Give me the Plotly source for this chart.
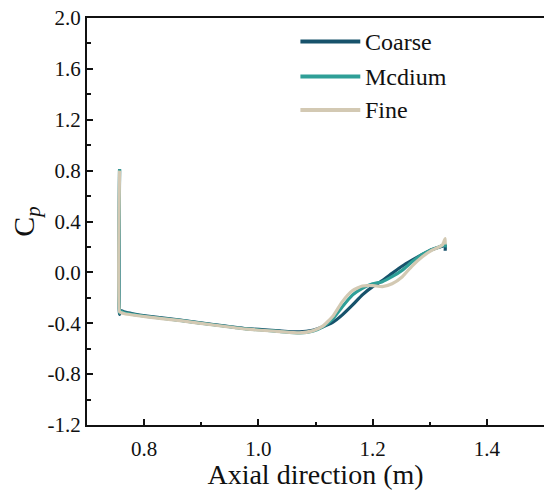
import plotly.graph_objects as go

# Pressure coefficient along the axial direction for three mesh resolutions
coarse_x = [0.757, 0.757, 0.759, 0.766, 0.78, 0.805, 0.863, 0.921, 0.979, 1.037, 1.072,
            1.095, 1.112, 1.13, 1.147, 1.165, 1.182, 1.2, 1.217, 1.234, 1.252, 1.269,
            1.287, 1.304, 1.322, 1.327, 1.327]
coarse_y = [0.81, -0.33, -0.30, -0.312, -0.325, -0.343, -0.375, -0.41, -0.442, -0.46, -0.468,
            -0.455, -0.43, -0.394, -0.334, -0.256, -0.177, -0.112, -0.065, -0.008, 0.05, 0.096,
            0.141, 0.18, 0.206, 0.215, 0.17]

medium_x = [0.757, 0.757, 0.759, 0.766, 0.78, 0.805, 0.863, 0.921, 0.979, 1.037, 1.072,
            1.095, 1.112, 1.13, 1.147, 1.165, 1.182, 1.2, 1.217, 1.234, 1.252, 1.269,
            1.287, 1.304, 1.322, 1.327, 1.327]
medium_y = [0.81, -0.32, -0.305, -0.318, -0.33, -0.347, -0.378, -0.412, -0.444, -0.464, -0.476,
            -0.462, -0.43, -0.368, -0.27, -0.177, -0.125, -0.09, -0.073, -0.034, 0.018, 0.083,
            0.141, 0.18, 0.211, 0.22, 0.196]

fine_x = [0.757, 0.757, 0.759, 0.766, 0.78, 0.805, 0.863, 0.921, 0.979, 1.037, 1.072,
          1.095, 1.112, 1.13, 1.147, 1.165, 1.182, 1.2, 1.217, 1.234, 1.252, 1.269,
          1.287, 1.304, 1.322, 1.327, 1.327]
fine_y = [0.80, -0.31, -0.315, -0.325, -0.335, -0.35, -0.38, -0.414, -0.446, -0.466, -0.476,
          -0.46, -0.425, -0.347, -0.23, -0.143, -0.107, -0.104, -0.112, -0.09, -0.034, 0.05,
          0.123, 0.175, 0.214, 0.266, 0.22]

series_names = ["Coarse", "Mcdium", "Fine"]
series_colors = ["#17526b", "#2f9f97", "#d3c9b3"]

x_ticks = [0.8, 1.0, 1.2, 1.4]
y_ticks = [2.0, 1.6, 1.2, 0.8, 0.4, 0.0, -0.4, -0.8, -1.2]

FONT = "Liberation Serif"
INK = "#111111"

fig = go.Figure()
for name, color, xs, ys in zip(series_names, series_colors,
                               [coarse_x, medium_x, fine_x],
                               [coarse_y, medium_y, fine_y]):
    fig.add_trace(go.Scatter(
        x=xs, y=ys, name=name, mode="lines",
        line=dict(color=color, width=3.2, shape="spline", smoothing=0.5),
        showlegend=False,
    ))

# Hand-placed legend: line sample plus label for each series
legend_rows = [0.942, 0.856, 0.774]
for name, color, yp in zip(series_names, series_colors, legend_rows):
    fig.add_shape(type="line", xref="paper", yref="paper",
                  x0=0.467, x1=0.598, y0=yp, y1=yp,
                  line=dict(color=color, width=4))
    fig.add_annotation(text=name, xref="paper", yref="paper",
                       x=0.604, y=yp, xanchor="left", yanchor="middle",
                       showarrow=False, font=dict(family=FONT, size=24, color=INK))

fig.update_layout(
    template="none",
    width=544, height=490,
    margin=dict(l=87, r=0, t=18, b=65),
    plot_bgcolor="white", paper_bgcolor="white",
    font=dict(family=FONT, size=21, color=INK),
)
fig.update_xaxes(
    range=[0.7, 1.5], tickvals=x_ticks, ticktext=[f"{v:.1f}" for v in x_ticks],
    tickfont=dict(family=FONT, size=21, color=INK), ticklabelstandoff=4,
    ticks="inside", ticklen=6, tickwidth=1.5, tickcolor=INK,
    minor=dict(ticks="inside", ticklen=3.5, tickwidth=1.5, tickcolor=INK, dtick=0.1, tick0=0.7),
    showline=True, linewidth=2, linecolor=INK, mirror=True,
    showgrid=False, zeroline=False,
    title=dict(text="Axial direction (m)", font=dict(family=FONT, size=28, color=INK), standoff=4),
)
fig.update_yaxes(
    range=[-1.2, 2.0], tickvals=y_ticks, ticktext=[f"{v:.1f}" for v in y_ticks],
    tickfont=dict(family=FONT, size=21, color=INK),
    ticks="inside", ticklen=6, tickwidth=1.5, tickcolor=INK,
    minor=dict(ticks="inside", ticklen=3.5, tickwidth=1.5, tickcolor=INK, dtick=0.2, tick0=0),
    showline=True, linewidth=2, linecolor=INK, mirror=False,
    showgrid=False, zeroline=False,
    title=dict(text="C<sub><i>p</i></sub>", font=dict(family=FONT, size=30, color=INK), standoff=4),
)

fig.write_html("out.html")
